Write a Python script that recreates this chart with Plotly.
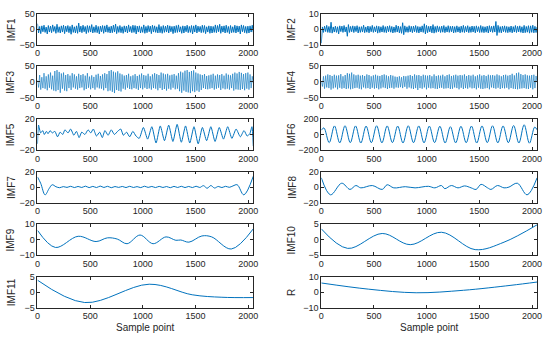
import numpy as np
import plotly.graph_objects as go

# ---------------- data ----------------
imf1 = [18,-12,9,-14,11,-8,13,-10,7,-15,12,-9,10,-11,14,-7,9,-13,16,-10,
        8,-12,11,-9,13,-14,10,-8,12,-11,9,-16,14,-10,8,-12,11,-13,20,-9,
        10,-11,13,-8,9,-14,12,-10,11,-9,15,-12,8,-10,13,-11,9,-15,10,-8,
        12,-13,11,-9,14,-10,8,-12,10,-11,13,-9,17,-14,9,-10,12,-11,8,-13,
        11,-9,10,-12,14,-8,9,-11,13,-10,12,-15,10,-9,11,-12,8,-10,14,-13,
        9,-11,12,-8,10,-14,13,-9,11,-10,8,-12,15,-11,9,-13,12,-10,10,-9,
        13,-12,11,-8,9,-14,10,-11,12,-10,14,-9,8,-13,11,-12,10,-8,13,-11,
        9,-10,12,-15,11,-9,14,-12,10,-8,9,-11,13,-10,12,-14,8,-9,11,-13,
        10,-12,9,-10,14,-11,12,-8,16,-13,10,-9,11,-12,13,-10,9,-14,12,-11,
        8,-10,13,-12,11,-9,10,-15,14,-8,12,-11,9,-13,10,-12,11,-9,13,-10]

imf2 = [-9,1.5,-2,2,-1.5,2.5,-2,1.8,-2.2,4.5,
        -2.5,1.5,-1.8,2,-2,1.6,-3,2.2,-1.5,2,
        -2,2.4,-1.7,1.5,-4.5,3,-2,1.8,-1.6,2.2,
        -2.1,1.9,-1.5,2.3,-2.4,1.6,-2,1.7,-1.8,2.6,
        -2.2,1.5,-1.9,2.1,-2.3,1.8,-1.6,2.5,-2,1.6,
        -1.7,2.2,-2.5,1.9,-2.1,1.6,-1.8,2.4,-2,1.7,
        -2.2,2,-1.6,2.3,-1.9,1.8,-2.4,1.5,-2,2.6,
        -1.8,2.1,-2.3,1.7,-2.6,4.2,-3.5,2.2,-1.9,1.6,
        -2,2.3,-1.7,1.9,-2.2,2,-1.6,2.4,-2.1,1.8,
        -2.4,1.6,-1.8,2.2,-2,3.5,-3,2.5,-2.2,1.9,
        -1.7,2.1,-2.3,3,-2.5,1.8,-2,2.2,-1.6,1.7,
        -2.1,2,-1.9,2.4,-2.2,1.6,-1.8,2.3,-2,1.9,
        -1.6,2.1,-2.4,1.7,-2,2.2,-1.8,1.6,-2.3,2,
        -1.9,2.5,-2.1,1.8,-1.7,2.3,-2.2,1.6,-2,2.1,
        -1.8,1.9,-2.3,2.2,-1.6,1.7,-2.1,2.4,-2,1.8,
        -2.2,1.6,-1.9,2,-2.4,2.3,-1.7,1.9,-2,2.2,
        -1.8,5,-4,2.5,-2.1,1.7,-2.3,2,-1.6,2.2,
        -2,1.8,-2.2,1.6,-1.9,2.1,-2.3,1.7,-1.8,2.4,
        -2.1,1.9,-1.7,2.2,-2,1.6,-2.4,2.5,-2.2,1.8,
        -1.9,2.3,-2.5,2.2,-2,2.6,-2.3,1.9,-2.1,1.5]

imf3 = [5,-18,22,-25,15,-20,28,-22,18,-27,
        24,-19,30,-24,20,-28,35,-30,38,-26,
        32,-35,27,-22,30,-28,22,-30,25,-20,
        20,-26,28,-18,24,-22,18,-25,26,-20,
        22,-18,25,-27,20,-23,28,-19,17,-24,
        21,-20,16,-25,23,-18,26,-21,19,-22,
        24,-27,28,-20,25,-30,35,-28,38,-32,
        33,-36,30,-26,34,-29,27,-31,24,-22,
        20,-25,22,-19,26,-23,18,-24,21,-20,
        25,-22,19,-26,23,-20,27,-24,22,-19,
        20,-23,26,-21,18,-25,24,-20,28,-22,
        25,-27,22,-20,30,-26,27,-23,24,-28,
        26,-22,21,-25,23,-19,25,-24,20,-22,
        28,-30,33,-35,30,-28,36,-32,38,-34,
        32,-36,35,-30,37,-33,30,-28,27,-32,
        24,-26,22,-20,25,-23,19,-24,21,-22,
        23,-20,26,-25,20,-22,24,-19,22,-26,
        25,-21,20,-24,27,-22,23,-25,21,-20,
        26,-28,30,-24,27,-25,32,-26,29,-23,
        25,-27,28,-22,30,-25,24,-20,18,-5]

imf4 = [0,-15,18,-22,20,-18,24,-20,22,-25,
        19,-21,23,-18,20,-24,21,-19,25,-22,
        18,-20,22,-23,28,-21,26,-24,30,-22,
        24,-20,21,-19,23,-22,20,-24,22,-18,
        19,-21,24,-20,22,-23,18,-19,21,-22,
        23,-20,20,-24,19,-21,22,-18,24,-20,
        21,-23,18,-20,22,-19,20,-22,17,-18,
        16,-19,18,-17,15,-20,19,-16,18,-22,
        20,-18,22,-21,19,-23,24,-20,21,-26,
        22,-20,19,-22,23,-18,21,-24,20,-19,
        22,-21,18,-20,24,-22,19,-23,21,-20,
        20,-19,23,-22,18,-21,22,-20,24,-23,
        19,-22,21,-18,23,-20,20,-24,22,-19,
        21,-23,24,-20,19,-22,22,-18,20,-21,
        23,-20,18,-24,21,-19,24,-22,20,-23,
        22,-21,19,-20,23,-24,21,-18,22,-20,
        20,-22,24,-19,21,-23,18,-20,22,-21,
        23,-19,20,-24,22,-20,26,-22,21,-23,
        28,-24,30,-22,25,-21,22,-20,24,-22,
        21,-23,20,-19,22,-24,23,-20,19,-2]

x5 = [0,10,30,50,65,85,100,120,140,165,
      190,215,240,260,290,315,345,370,395,420,
      450,480,505,530,560,590,615,640,670,700,
      730,760,790,815,845,875,905,935,965,1005,
      1045,1085,1125,1165,1205,1245,1285,1325,1365,1405,
      1445,1485,1525,1565,1605,1645,1685,1725,1765,1805,
      1845,1885,1925,1960,1990,2015,2035,2048]
imf5 = [-12,12,2,5,0,4,1,5,2,4,
        -3,3,0,6,2,7,-1,4,-4,3,
        0,6,2,7,-2,3,-4,5,-1,6,
        0,4,7,-1,3,-3,4,-2,-5,9,
        -6,10,-11,11,-8,12,-9,13,-10,11,
        -11,10,-12,9,-8,10,-9,9,-6,10,
        -5,7,-3,5,-2,1,10,-15]

x6 = [0] + list(range(25, 2026, 50)) + [2048]
imf6 = [55,
        85,-105,110,-108,112,-105,110,-110,108,-106,
        112,-108,110,-105,108,-110,112,-106,110,-108,
        108,-105,106,-110,100,-108,105,-106,108,-110,
        110,-105,112,-108,110,-106,115,-110,125,-112,
        95,
        60]

x7 = [0,30,72,110,140] + list(range(175, 1856, 35)) + [1895,1958,2048]
imf7 = [13,5,-10,-2,3,
        0.5,-0.8,0.6,-0.4,1,-0.6,0.8,-0.5,1.2,-0.7,
        0.9,-0.6,1.3,-0.5,1,-0.8,0.7,-0.4,0.8,-0.6,
        1,-0.5,0.6,-0.7,1.1,-0.4,0.8,-0.6,0.9,-0.5,
        0.7,-0.8,0.9,-0.5,1,-0.6,0.8,-0.6,1.1,-0.5,
        1.8,-1.5,2,-1.2,0.8,-0.6,1,-0.3,1.5,
        3,-10,14]

x8 = [0,88,194,272,328,375,484,578,625,688,
      797,890,1016,1078,1140,1172,1234,1297,1360,1422,
      1469,1516,1578,1610,1672,1734,1781,1860,1953,2048]
imf8 = [12,-10,5,-3,2,-1,2,-3,3,-1,
        0.5,-1,1,-1,2,-2,2,-1,1.5,-1,
        -3,3.5,-1,-3,2,-1,0,5,-10,12]

x9 = [0,170,386,556,664,757,850,973,1097,1220,1313,1360,1437,1560,1653,1839,2048]
imf9 = [6,-5,2.2,-1.2,1.2,0.4,-2.6,3,-2.6,1.8,-0.4,-0.2,-1.6,2.4,1.8,-6,7]

x10 = [0,250,578,844,1140,1460,1734,2048]
imf10 = [3.5,-2.8,2,-1.6,2.4,-3.2,-0.8,4.8]

x11 = [0,448,1060,1468,1750,2048]
imf11 = [3.9,-3.3,2.6,-0.8,-1.6,-1.7]

xr = [0,450,900,1350,1800,2048]
res = [6,2.0,-0.3,1.3,4.5,6.6]

names = ["IMF1","IMF2","IMF3","IMF4","IMF5","IMF6",
         "IMF7","IMF8","IMF9","IMF10","IMF11","R"]
yticks = [[-50,0,50],[-10,0,10],[-50,0,50],[-50,0,50],[-20,0,20],[-200,0,200],
          [-20,0,20],[-20,0,20],[-10,0,10],[-5,0,5],[-5,0,5],[-10,0,10]]
xticks = [0,500,1000,1500,2000]
x_label = "Sample point"

# ---------------- figure ----------------
W, H = 550, 340
dense_x = lambda v: np.linspace(0, 2048, len(v))
series = [(dense_x(imf1), imf1, 'linear', 1.0, 0),
          (dense_x(imf2), imf2, 'linear', 1.0, 0),
          (dense_x(imf3), imf3, 'linear', 0.6, 0),
          (dense_x(imf4), imf4, 'linear', 0.6, 0),
          (x5, imf5, 'spline', 1.0, 0.6),
          (x6, imf6, 'spline', 1.0, 1.0),
          (x7, imf7, 'spline', 1.0, 1.0),
          (x8, imf8, 'spline', 1.0, 1.0),
          (x9, imf9, 'spline', 1.0, 1.0),
          (x10, imf10, 'spline', 1.0, 1.0),
          (x11, imf11, 'spline', 1.0, 1.0),
          (xr, res, 'spline', 1.0, 1.0)]

FONT = "Liberation Sans, Arial, Helvetica, sans-serif"
AXC = "#262626"
fig = go.Figure()
annotations = []
left_px, right_px = (35, 254), (323, 542)
for k, (xs, ys, shape, wdt, smooth) in enumerate(series):
    r, c = divmod(k, 2)
    top = 9 + 54.2 * r
    bot = top + 32
    xd = left_px if c == 0 else right_px
    sfx = '' if k == 0 else str(k + 1)
    line = dict(color='#0072BD', width=wdt, shape=shape)
    if shape == 'spline':
        line['smoothing'] = smooth
    fig.add_trace(go.Scatter(x=list(xs), y=ys, mode='lines', line=line,
                             xaxis='x' + sfx, yaxis='y' + sfx,
                             showlegend=False, hoverinfo='skip'))
    common = dict(showline=True, linecolor=AXC, linewidth=0.7, mirror='ticks',
                  ticks='inside', ticklen=3, tickwidth=0.7, tickcolor=AXC,
                  showgrid=False, zeroline=False,
                  tickfont=dict(family=FONT, size=9, color=AXC))
    fig.layout['xaxis' + sfx] = dict(domain=[xd[0] / W, xd[1] / W], range=[0, 2048],
                                     anchor='y' + sfx, tickvals=xticks, **common)
    t = yticks[k]
    fig.layout['yaxis' + sfx] = dict(domain=[1 - bot / H, 1 - top / H],
                                     range=[t[0], t[-1]], tickvals=t,
                                     anchor='x' + sfx, **common)
    annotations.append(dict(text=names[k], textangle=-90, showarrow=False,
                            xref='paper', yref='paper',
                            x=(8 if c == 0 else 293) / W, y=1 - (top + 16) / H,
                            xanchor='center', yanchor='middle',
                            font=dict(family=FONT, size=10, color=AXC)))
    if r == 5:
        annotations.append(dict(text=x_label, showarrow=False, xref='paper', yref='paper',
                                x=(xd[0] + xd[1]) / 2 / W, y=1 - 332 / H,
                                xanchor='center', yanchor='middle',
                                font=dict(family=FONT, size=10, color=AXC)))

fig.update_layout(width=W, height=H, margin=dict(l=0, r=0, t=0, b=0),
                  paper_bgcolor='white', plot_bgcolor='white',
                  annotations=annotations)
# remove the default page margin so the 550x340 figure fills the window exactly
fig.write_html("out.html", config={'displayModeBar': False},
               post_script="document.body.style.margin='0px';document.body.style.overflow='hidden';")
